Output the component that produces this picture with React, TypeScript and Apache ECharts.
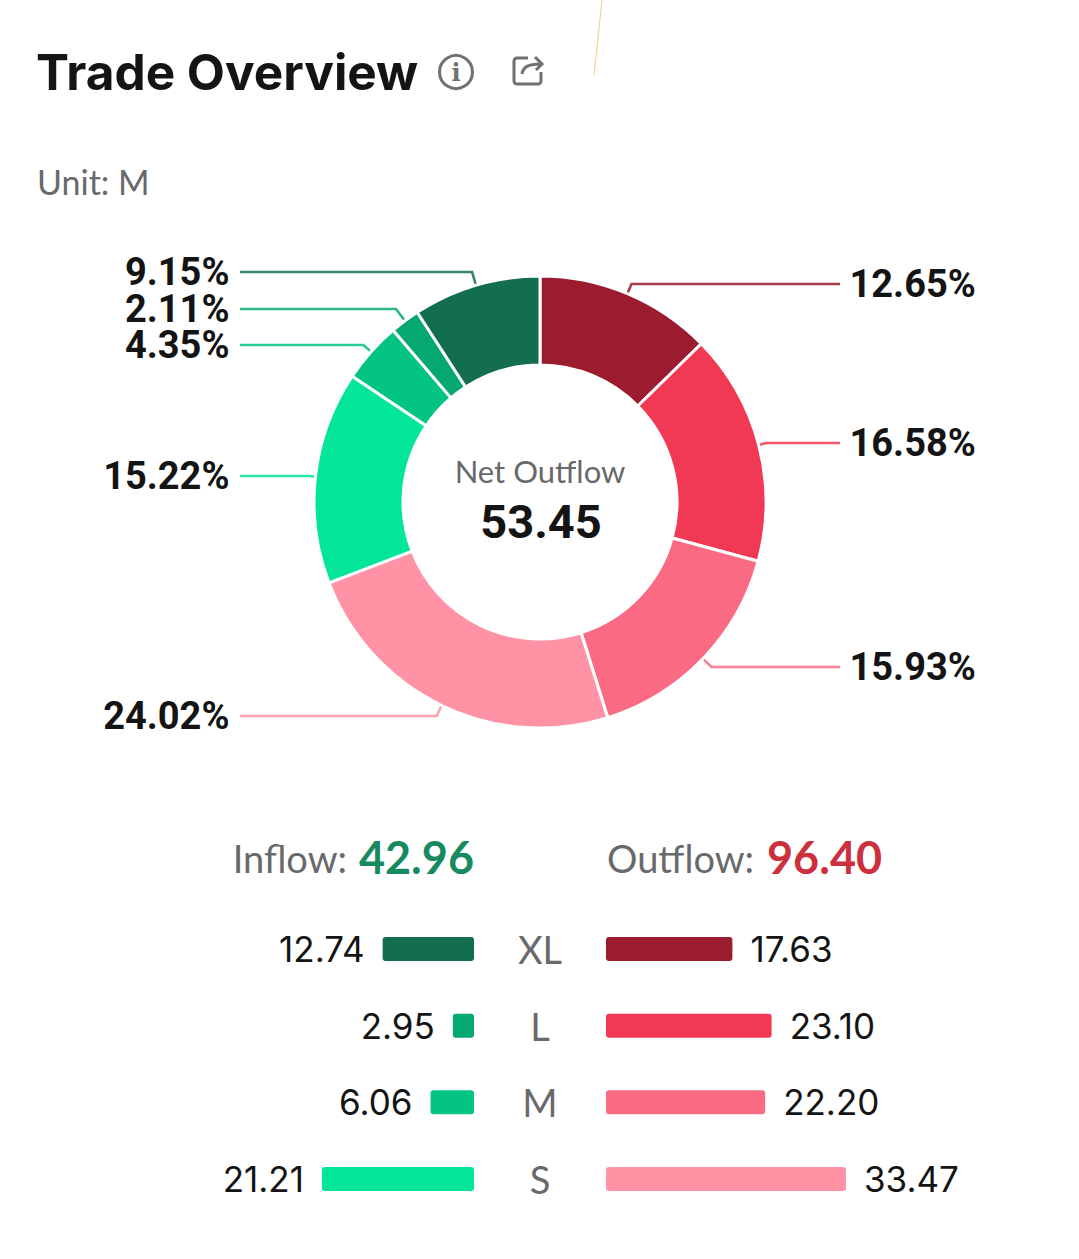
import React, { useEffect, useRef } from "react";
import * as echarts from "echarts";

const sizeCategories = ["XL", "L", "M", "S"];
const inflowValues = [12.74, 2.95, 6.06, 21.21];
const outflowValues = [17.63, 23.1, 22.2, 33.47];
const inflowColors = ["#136e50", "#05a86f", "#04c484", "#03e69a"];
const outflowColors = ["#9a1c2e", "#f13955", "#fa6a82", "#ff93a5"];
const inflowTotal = "42.96";
const outflowTotal = "96.40";
const netOutflow = "53.45";
const percentLabels = ["12.65%", "16.58%", "15.93%", "24.02%", "15.22%", "4.35%", "2.11%", "9.15%"];
const labelRows = [284, 443, 667, 716, 476, 345, 309, 272];

const CX = 540;
const CY = 502;
const R_OUT = 226;
const R_IN = 137;
const PX_PER_UNIT = 7.17;
const AXIS_MAX = 40;
const AXIS_W = AXIS_MAX * PX_PER_UNIT;
const ROW_H = 76.67;
const GRID_TOP = 949 - ROW_H / 2;
const FONT = "Lato, sans-serif";
const DARK = "#141414";
const GRAY = "#68696b";

echarts.graphic.registerShape(
  "shareIcon",
  echarts.graphic.extendPath(
    "M15 2 H4 A3 3 0 0 0 1 5 V25 A3 3 0 0 0 4 28 H25 A3 3 0 0 0 28 25 V16 M9 18 C10 11 15 8 28 8 M22 1 L29 8 L23 14",
    {}
  )
);

function buildOption() {
  const pieData = [
    ...outflowValues.map((v, i) => ({
      name: "Outflow " + sizeCategories[i],
      value: v,
      itemStyle: { color: outflowColors[i] },
    })),
    ...[...inflowValues].reverse().map((v, i) => ({
      name: "Inflow " + sizeCategories[3 - i],
      value: v,
      itemStyle: { color: inflowColors[3 - i] },
    })),
  ];

  const bar = (
    gridIndex: number,
    values: number[],
    colors: string[],
    pos: "left" | "right"
  ) => ({
    type: "bar",
    xAxisIndex: gridIndex,
    yAxisIndex: gridIndex,
    barWidth: 24,
    silent: true,
    data: values.map((v, i) => ({ value: v, itemStyle: { color: colors[i], borderRadius: 3 } })),
    label: {
      show: true,
      position: pos,
      distance: 18,
      formatter: (p: any) => p.value.toFixed(2),
      fontFamily: "Inter, sans-serif",
      fontWeight: 400,
      fontSize: 35,
      color: DARK,
    },
  });

  const hiddenX = (gridIndex: number, inverse: boolean) => ({
    type: "value",
    gridIndex,
    min: 0,
    max: AXIS_MAX,
    inverse,
    show: false,
  });

  return {
    animation: false,
    backgroundColor: "#ffffff",
    grid: [
      { left: 474 - AXIS_W, top: GRID_TOP, width: AXIS_W, height: ROW_H * 4 },
      { left: 606, top: GRID_TOP, width: AXIS_W, height: ROW_H * 4 },
    ],
    xAxis: [hiddenX(0, true), hiddenX(1, false)],
    yAxis: [
      {
        type: "category",
        gridIndex: 0,
        inverse: true,
        position: "right",
        data: sizeCategories,
        axisLine: { show: false },
        axisTick: { show: false },
        axisLabel: {
          show: true,
          align: "center",
          margin: 66,
          fontFamily: FONT,
          fontSize: 38,
          color: GRAY,
          padding: [0, 0, 4, 0],
        },
      },
      {
        type: "category",
        gridIndex: 1,
        inverse: true,
        data: sizeCategories,
        axisLine: { show: false },
        axisTick: { show: false },
        axisLabel: { show: false },
      },
    ],
    series: [
      {
        type: "pie",
        center: [CX, CY],
        radius: [R_IN, R_OUT],
        startAngle: 90,
        clockwise: true,
        avoidLabelOverlap: false,
        silent: true,
        itemStyle: { borderColor: "#ffffff", borderWidth: 3 },
        data: pieData,
        label: {
          show: true,
          formatter: (p: any) => percentLabels[p.dataIndex],
          fontFamily: "Roboto, sans-serif",
          fontWeight: "bold",
          fontSize: 38,
          lineHeight: 30,
          color: DARK,
        },
        labelLine: { show: true, length: 10, length2: 20, lineStyle: { width: 2.6, opacity: 0.85 } },
        labelLayout: (p: any) => {
          const row = labelRows[p.dataIndex];
          const right = p.dataIndex < 3;
          const start = p.labelLinePoints[0];
          const dx = start[0] - CX;
          const dy = start[1] - CY;
          const kneeX = start[0] + ((row - start[1]) * dx) / dy;
          const endX = right ? 840 : 240;
          return {
            x: right ? 849.5 : 229.5,
            y: row,
            align: right ? "left" : "right",
            verticalAlign: "middle",
            labelLinePoints: [start, [kneeX, row], [endX, row]],
          };
        },
      },
      bar(0, inflowValues, inflowColors, "left"),
      bar(1, outflowValues, outflowColors, "right"),
    ],
    graphic: [
      { type: "polyline", silent: true, shape: { points: [[602, 0], [598, 38], [594, 75]] }, style: { stroke: "#efd98f", lineWidth: 1.2, fill: "none" } },
      { type: "text", x: 36, y: 72, style: { text: "Trade Overview", fontFamily: "Inter, sans-serif", fontWeight: 700, fontSize: 49.5, fill: DARK, textVerticalAlign: "middle" } },
      { type: "circle", shape: { cx: 456, cy: 72, r: 16.5 }, style: { stroke: "#707070", lineWidth: 3, fill: "none" } },
      { type: "text", x: 456, y: 72, style: { text: "i", fontFamily: "DejaVu Serif, serif", fontWeight: "bold", fontSize: 24, fill: "#707070", textAlign: "center", textVerticalAlign: "middle" } },
      { type: "shareIcon", x: 513, y: 56, scaleX: 1, scaleY: 1, style: { stroke: "#707070", lineWidth: 3, fill: "none" } },
      { type: "text", x: 37, y: 181, style: { text: "Unit: M", fontFamily: FONT, fontSize: 34, fill: GRAY, textVerticalAlign: "middle" } },
      { type: "text", x: CX, y: 471, style: { text: "Net Outflow", fontFamily: FONT, fontSize: 31, fill: GRAY, textAlign: "center", textVerticalAlign: "middle" } },
      { type: "text", x: CX + 1, y: 521, style: { text: netOutflow, fontFamily: "Roboto, sans-serif", fontWeight: "bold", fontSize: 47, fill: DARK, textAlign: "center", textVerticalAlign: "middle" } },
      { type: "text", x: 347, y: 858, style: { text: "Inflow:", fontFamily: FONT, fontSize: 38, fill: GRAY, textAlign: "right", textVerticalAlign: "middle" } },
      { type: "text", x: 474, y: 857, style: { text: inflowTotal, fontFamily: FONT, fontWeight: "bold", fontSize: 45, fill: "#178a62", textAlign: "right", textVerticalAlign: "middle" } },
      { type: "text", x: 607, y: 858, style: { text: "Outflow:", fontFamily: FONT, fontSize: 38, fill: GRAY, textVerticalAlign: "middle" } },
      { type: "text", x: 767, y: 857, style: { text: outflowTotal, fontFamily: FONT, fontWeight: "bold", fontSize: 45, fill: "#cc2f3d", textVerticalAlign: "middle" } },
    ],
  };
}

export default function App() {
  const ref = useRef<HTMLDivElement>(null);
  useEffect(() => {
    document.body.style.margin = "0";
    const chart = echarts.init(ref.current!, undefined, { renderer: "svg" });
    chart.setOption(buildOption() as any);
    return () => chart.dispose();
  }, []);
  return <div ref={ref} style={{ width: 1079, height: 1259 }} />;
}
